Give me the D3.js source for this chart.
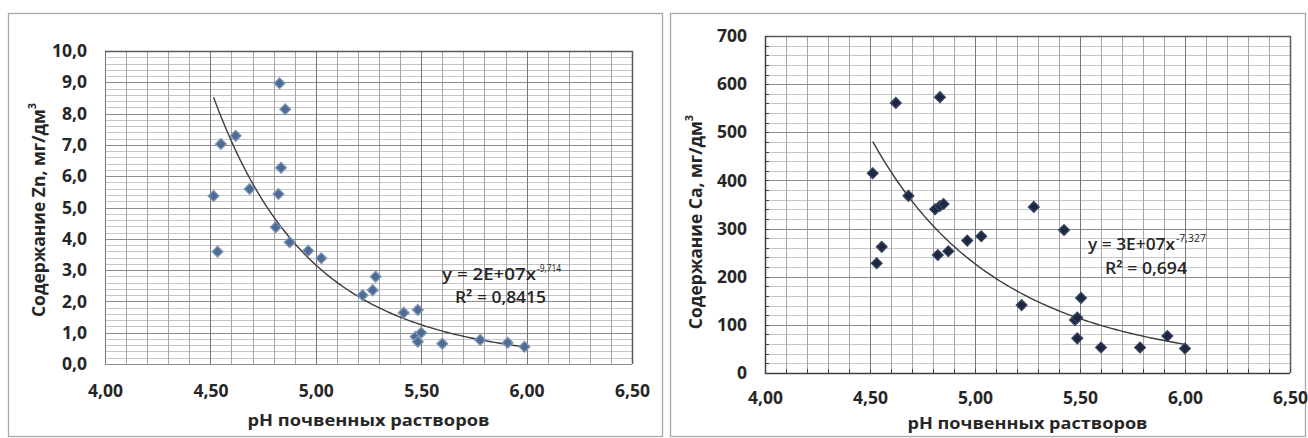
<!DOCTYPE html>
<html>
<head>
<meta charset="utf-8">
<script src="https://cdn.jsdelivr.net/npm/d3@7/dist/d3.min.js"></script>
<style>
  html, body { margin: 0; padding: 0; background: #ffffff; }
  svg { display: block; }
  text { font-family: "Open Sans", Lato, sans-serif; fill: #262626; }
</style>
</head>
<body>
<svg id="chart" width="1308" height="438"></svg>
<script>
// pH of soil solutions and element content (mg/dm3)
const znPH = [4.515, 4.534, 4.55, 4.62, 4.686, 4.81, 4.823, 4.828, 4.835, 4.855,
              4.876, 4.964, 5.026, 5.222, 5.27, 5.284, 5.417, 5.473, 5.484, 5.484,
              5.50, 5.60, 5.78, 5.91, 5.99];
const znValues = [5.37, 3.59, 7.03, 7.29, 5.59, 4.37, 5.43, 8.97, 6.27, 8.14,
                  3.89, 3.62, 3.38, 2.20, 2.36, 2.79, 1.64, 0.87, 1.73, 0.71,
                  1.00, 0.65, 0.77, 0.68, 0.55];

const caPH = [4.513, 4.532, 4.556, 4.623, 4.683, 4.81, 4.823, 4.833, 4.833, 4.85,
              4.873, 4.963, 5.03, 5.222, 5.28, 5.424, 5.476, 5.487, 5.487, 5.505,
              5.60, 5.786, 5.916, 6.0];
const caValues = [415, 228, 262, 561, 368, 340, 245, 573, 347, 351,
                  253, 275, 284, 141, 345, 297, 110, 115, 72, 156,
                  53, 53, 77, 51];

// power trend y = a * x^b
const znTrend = [1.95e7, -9.714];
const caTrend = [3e7, -7.327];
const znEquation = ["y = 2E+07x", "-9,714", "R\u00b2 = 0,8415"];
const caEquation = ["y = 3E+07x", "-7,327", "R\u00b2 = 0,694"];

// axis tick labels
const phTicks = [4.0, 4.5, 5.0, 5.5, 6.0, 6.5];
const znTicks = [0, 1, 2, 3, 4, 5, 6, 7, 8, 9, 10];
const caTicks = [0, 100, 200, 300, 400, 500, 600, 700];

const xTitle = "pH почвенных растворов";
const znTitle = "Содержание Zn, мг/дм";
const caTitle = "Содержание Ca, мг/дм";

const ru = d3.formatLocale({decimal: ",", thousands: "\u00a0", grouping: [3], currency: ["", ""]});

const svg = d3.select("#chart");

function drawPanel(cfg) {
  const g = svg.append("g");

  // outer chart frame
  g.append("rect")
    .attr("x", cfg.frame[0] + 0.5).attr("y", cfg.frame[1] + 0.5)
    .attr("width", cfg.frame[2] - cfg.frame[0]).attr("height", cfg.frame[3] - cfg.frame[1])
    .attr("fill", "#fff").attr("stroke", "#a8a8a8").attr("stroke-width", 1.3);

  const x = d3.scaleLinear().domain([phTicks[0], phTicks[phTicks.length - 1]])
    .range([cfg.plot.left, cfg.plot.right]);
  const y = d3.scaleLinear().domain([cfg.yTicks[0], cfg.yTicks[cfg.yTicks.length - 1]])
    .range([cfg.plot.bottom, cfg.plot.top]);

  const grid = g.append("g");
  const xMinor = d3.range(0, 26).map(i => 4 + i * 0.1);
  const yMax = cfg.yTicks[cfg.yTicks.length - 1];
  const yMinor = d3.range(0, Math.round(yMax / cfg.yMinor) + 1).map(i => i * cfg.yMinor);

  grid.selectAll("line.hmin").data(yMinor).join("line")
    .attr("x1", cfg.plot.left).attr("x2", cfg.plot.right)
    .attr("y1", d => Math.round(y(d)) + 0.5).attr("y2", d => Math.round(y(d)) + 0.5)
    .attr("stroke", "#c6c6c6").attr("stroke-width", 1);
  grid.selectAll("line.vmin").data(xMinor).join("line")
    .attr("y1", cfg.plot.top).attr("y2", cfg.plot.bottom)
    .attr("x1", d => Math.round(x(d)) + 0.5).attr("x2", d => Math.round(x(d)) + 0.5)
    .attr("stroke", "#a4a4a4").attr("stroke-width", 1);
  grid.selectAll("line.hmaj").data(cfg.yTicks).join("line")
    .attr("x1", cfg.plot.left).attr("x2", cfg.plot.right)
    .attr("y1", d => Math.round(y(d)) + 0.5).attr("y2", d => Math.round(y(d)) + 0.5)
    .attr("stroke", "#8c8c8c").attr("stroke-width", 1);
  grid.selectAll("line.vmaj").data(phTicks).join("line")
    .attr("y1", cfg.plot.top).attr("y2", cfg.plot.bottom)
    .attr("x1", d => Math.round(x(d)) + 0.5).attr("x2", d => Math.round(x(d)) + 0.5)
    .attr("stroke", "#767676").attr("stroke-width", 1);

  // plot area border (top and right darker)
  g.append("path")
    .attr("d", `M${cfg.plot.left},${cfg.plot.top + 0.5}H${cfg.plot.right + 0.5}V${cfg.plot.bottom}`)
    .attr("fill", "none").attr("stroke", "#5a5a5a").attr("stroke-width", 1.5);

  if (cfg.axisLines) {
    g.append("path")
      .attr("d", `M${cfg.plot.left + 0.5},${cfg.plot.top}V${cfg.plot.bottom + 0.5}H${cfg.plot.right}`)
      .attr("fill", "none").attr("stroke", "#404040").attr("stroke-width", 1.5);
    g.append("g").selectAll("line").data(xMinor).join("line")
      .attr("x1", d => Math.round(x(d)) + 0.5).attr("x2", d => Math.round(x(d)) + 0.5)
      .attr("y1", cfg.plot.bottom).attr("y2", cfg.plot.bottom - 4)
      .attr("stroke", "#404040");
    g.append("g").selectAll("line").data(yMinor).join("line")
      .attr("y1", d => Math.round(y(d)) + 0.5).attr("y2", d => Math.round(y(d)) + 0.5)
      .attr("x1", cfg.plot.left).attr("x2", cfg.plot.left + 4)
      .attr("stroke", "#404040");
  }

  // axes (labels only)
  const fs = 17.5;
  const xAxis = d3.axisBottom(x).tickValues(phTicks).tickSize(0)
    .tickPadding(cfg.xLabelOffset - 0.71 * fs).tickFormat(ru.format(".2f"));
  const xa = g.append("g").attr("transform", `translate(0,${cfg.plot.bottom})`).call(xAxis);
  xa.select(".domain").remove();
  xa.selectAll("text").attr("font-size", fs).attr("font-weight", 700)
    .attr("font-family", "'Open Sans', sans-serif").attr("fill", "#262626");

  const yAxis = d3.axisLeft(y).tickValues(cfg.yTicks).tickSize(0)
    .tickPadding(cfg.yLabelOffset).tickFormat(ru.format(cfg.yFormat));
  const ya = g.append("g").attr("transform", `translate(${cfg.plot.left},0)`).call(yAxis);
  ya.select(".domain").remove();
  ya.selectAll("text").attr("font-size", fs).attr("font-weight", 700)
    .attr("font-family", "'Open Sans', sans-serif").attr("fill", "#262626");

  // axis titles
  g.append("text")
    .attr("x", (cfg.plot.left + cfg.plot.right) / 2).attr("y", cfg.xTitleY)
    .attr("text-anchor", "middle").attr("font-size", 16.5).attr("font-weight", 700)
    .attr("textLength", cfg.xTitleLen).attr("lengthAdjust", "spacingAndGlyphs")
    .text(xTitle);
  const yt = g.append("text")
    .attr("transform", `translate(${cfg.yTitleX},${cfg.yTitleY}) rotate(-90)`)
    .attr("text-anchor", "middle").attr("dominant-baseline", "central")
    .attr("font-size", 17.5).attr("font-weight", 700);
  yt.append("tspan").text(cfg.title);
  yt.append("tspan").attr("font-size", 11).attr("dy", -7).text("3");

  // trend line
  const [a, b] = cfg.trend;
  const x0 = d3.min(cfg.ph), x1 = d3.max(cfg.ph);
  const pts = d3.range(0, 121).map(i => x0 + (x1 - x0) * i / 120);
  g.append("path")
    .datum(pts)
    .attr("d", d3.line().x(d => x(d)).y(d => y(a * Math.pow(d, b))))
    .attr("fill", "none").attr("stroke", "#3c3c3c").attr("stroke-width", 1.4);

  // markers
  const diamond = d3.symbol().type(d3.symbolSquare).size(58);
  g.append("g").selectAll("path").data(cfg.ph.map((p, i) => [p, cfg.values[i]])).join("path")
    .attr("d", diamond)
    .attr("transform", d => `translate(${x(d[0])},${y(d[1])}) rotate(45)`)
    .attr("fill", cfg.markerFill).attr("stroke", cfg.markerStroke).attr("stroke-width", 1.3);

  // trend equation and R²
  const eqAttrs = sel => sel.attr("font-weight", 600).attr("fill", "#2a2a2a")
    .attr("lengthAdjust", "spacingAndGlyphs");
  g.append("text").call(eqAttrs)
    .attr("x", cfg.eqPos[0]).attr("y", cfg.eqPos[1]).attr("font-size", 16)
    .attr("textLength", cfg.eqLen[0]).text(cfg.equation[0]);
  g.append("text").call(eqAttrs)
    .attr("x", cfg.eqPos[0] + cfg.eqLen[0] + 1).attr("y", cfg.eqPos[1] - 8).attr("font-size", 10.5)
    .attr("font-weight", 400)
    .attr("textLength", cfg.eqLen[1]).text(cfg.equation[1]);
  g.append("text").call(eqAttrs)
    .attr("x", cfg.r2Pos[0]).attr("y", cfg.r2Pos[1]).attr("font-size", 16)
    .attr("textLength", cfg.eqLen[2]).text(cfg.equation[2]);
}

drawPanel({
  frame: [8, 13, 662, 436],
  plot: {left: 105, right: 632, top: 51, bottom: 364},
  yTicks: znTicks, yMinor: 0.2, yFormat: ".1f",
  xLabelOffset: 33, yLabelOffset: 18,
  xTitleY: 426, xTitleLen: 242, yTitleX: 38, yTitleY: 210,
  title: znTitle,
  ph: znPH, values: znValues, trend: znTrend,
  markerFill: "#4e6b93", markerStroke: "#8096b8",
  equation: znEquation, eqPos: [442, 280], r2Pos: [455, 303], eqLen: [94, 24, 91],
  axisLines: false
});

drawPanel({
  frame: [670, 13, 1305, 436],
  plot: {left: 765, right: 1290, top: 36, bottom: 373},
  yTicks: caTicks, yMinor: 20, yFormat: "d",
  xLabelOffset: 31, yLabelOffset: 18,
  xTitleY: 429, xTitleLen: 240, yTitleX: 695, yTitleY: 222,
  title: caTitle,
  ph: caPH, values: caValues, trend: caTrend,
  markerFill: "#1d2740", markerStroke: "#3a4565",
  equation: caEquation, eqPos: [1088, 250], r2Pos: [1105, 274], eqLen: [87, 30, 82],
  axisLines: true
});
</script>
</body>
</html>
